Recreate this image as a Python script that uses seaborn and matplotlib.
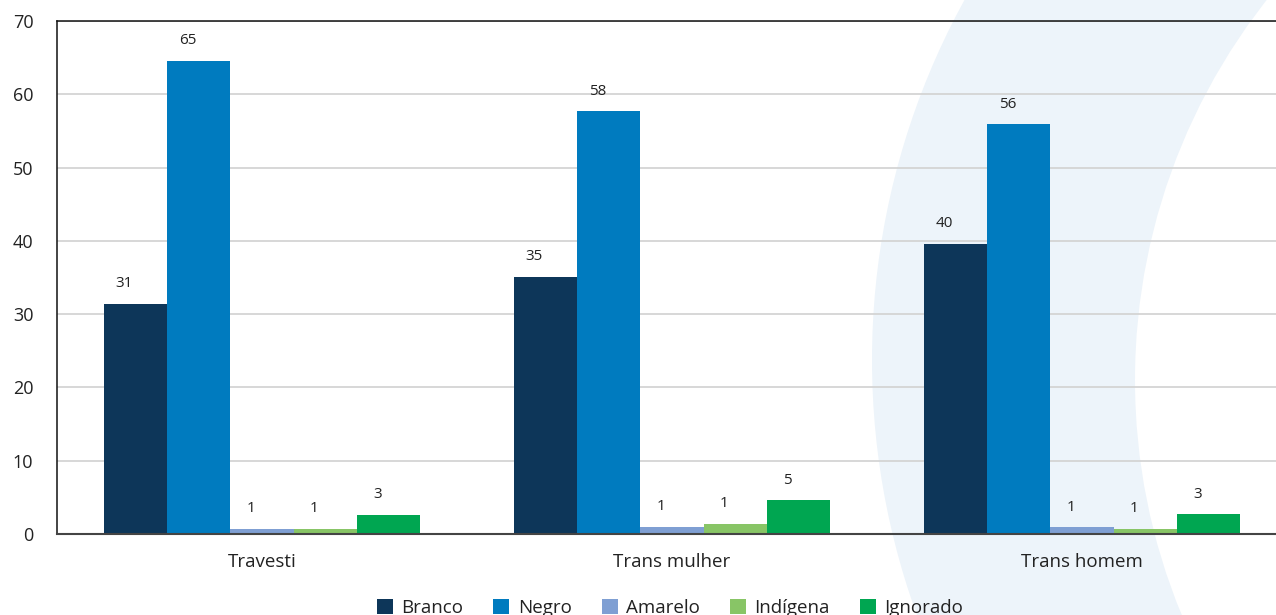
import numpy as np
import pandas as pd
import matplotlib.pyplot as plt
import seaborn as sns
from matplotlib.patches import Circle

# Data
categorias = ['Travesti', 'Trans mulher', 'Trans homem']
racas = ['Branco', 'Negro', 'Amarelo', 'Indígena', 'Ignorado']
branco = [31.4, 35.1, 39.6]
negro = [64.6, 57.7, 55.9]
amarelo = [0.7, 1.0, 0.9]
indigena = [0.7, 1.4, 0.75]
ignorado = [2.6, 4.6, 2.7]
cores = ['#0d3659', '#007bbf', '#7f9fd3', '#88c566', '#00a651']

series = [branco, negro, amarelo, indigena, ignorado]
df = pd.DataFrame({
    'categoria': categorias * len(racas),
    'raca': np.repeat(racas, len(categorias)),
    'valor': np.concatenate(series),
})

sns.set_style('white')
plt.rcParams['font.family'] = ['Open Sans', 'DejaVu Sans']

fig = plt.figure(figsize=(12.76, 6.15), dpi=100)

# decorative light-blue crescent behind the plot
fig.add_artist(Circle((16.19, 2.55), 7.47, transform=fig.dpi_scale_trans,
                      facecolor='#edf4fa', edgecolor='none', zorder=-3))
fig.add_artist(Circle((17.49, 2.35), 6.14, transform=fig.dpi_scale_trans,
                      facecolor='white', edgecolor='none', zorder=-2))

ax = fig.add_axes([57 / 1276, 81 / 615, 1219 / 1276, 513 / 615])
ax.set_facecolor('none')

sns.barplot(data=df, x='categoria', y='valor', hue='raca', order=categorias,
            hue_order=racas, palette=cores, saturation=1, width=0.773,
            errorbar=None, linewidth=0, ax=ax)

# value labels
for cont, vals in zip(ax.containers, series):
    for bar, v in zip(cont, vals):
        ax.annotate(f'{v:.0f}', xy=(bar.get_x() + bar.get_width() / 2, bar.get_height()),
                    xytext=(-8, 14.5), textcoords='offset points',
                    ha='center', va='center', fontsize=11, color='#222222')

ax.set_ylim(0, 70)
ax.set_xlim(-0.5, -0.5 + 1219 / 410)
ax.set_yticks(range(0, 71, 10))
ax.yaxis.grid(True, color='#d4d4d4', lw=1.3)
ax.set_axisbelow(True)

ax.set_xticks([0, 1, 2])
ax.set_xticklabels(categorias)
ax.set_xticks([-0.5, 0.5, 1.5], minor=True)
ax.tick_params(axis='x', which='major', length=0, pad=14, labelsize=13.5, labelcolor='#222222')
ax.tick_params(axis='x', which='minor', length=10, width=1, color='#222222', direction='out')
ax.tick_params(axis='y', length=11, width=1, color='#222222', pad=6, labelsize=13, labelcolor='#222222')
ax.set_xlabel('')
ax.set_ylabel('')

for s in ['top', 'left']:
    ax.spines[s].set_color('#111111')
    ax.spines[s].set_linewidth(1.1)
ax.spines['bottom'].set_color('#444444')
ax.spines['bottom'].set_linewidth(1.5)
ax.spines['right'].set_visible(False)

handles, labels = ax.get_legend_handles_labels()
ax.legend_.remove()
fig.legend(handles, labels, loc='center', bbox_to_anchor=(670 / 1276, 7 / 615),
           ncol=5, frameon=False, fontsize=13.5, handlelength=0.85, handleheight=0.85,
           handletextpad=0.45, columnspacing=1.6, labelcolor='#222222')

fig.savefig('out.png', dpi=100)
